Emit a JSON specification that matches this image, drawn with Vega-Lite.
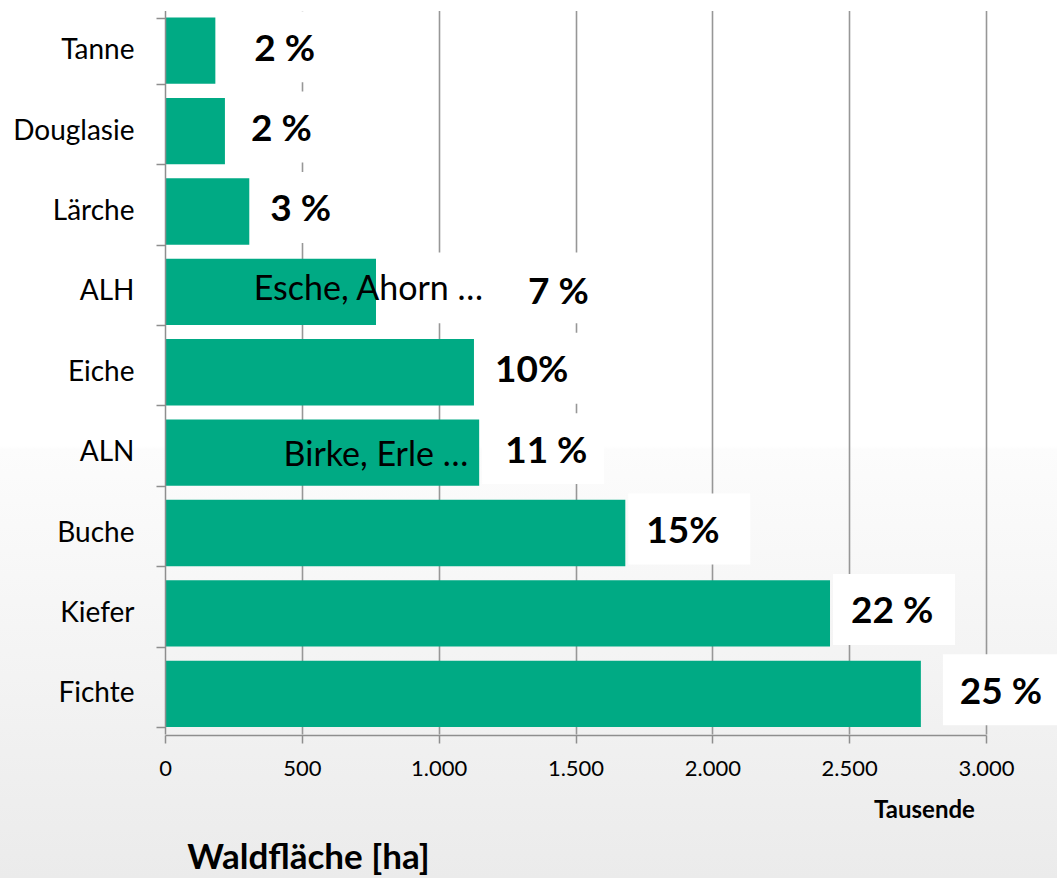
{
  "$schema": "https://vega.github.io/schema/vega-lite/v6.json",
  "width": 1057,
  "height": 878,
  "padding": 0,
  "autosize": "none",
  "background": "#ffffff",
  "config": {
    "view": {
      "stroke": null,
      "fill": {
        "gradient": "linear",
        "x1": 0, "y1": 0, "x2": 0, "y2": 1,
        "stops": [
          {"offset": 0, "color": "#ffffff"},
          {"offset": 0.508, "color": "#ffffff"},
          {"offset": 0.512, "color": "#fcfcfc"},
          {"offset": 1, "color": "#ebebeb"}
        ]
      }
    },
    "font": "Lato",
    "locale": {"number": {"decimal": ",", "thousands": ".", "grouping": [3], "currency": ["", " €"]}}
  },
  "data": {
    "values": [
      {"tree": "Tanne", "area": 184, "pct": "2 %"},
      {"tree": "Douglasie", "area": 219, "pct": "2 %"},
      {"tree": "Lärche", "area": 308, "pct": "3 %"},
      {"tree": "ALH", "area": 771, "pct": "7 %", "note": "Esche, Ahorn …"},
      {"tree": "Eiche", "area": 1129, "pct": "10%"},
      {"tree": "ALN", "area": 1148, "pct": "11 %", "note": "Birke, Erle …"},
      {"tree": "Buche", "area": 1682, "pct": "15%"},
      {"tree": "Kiefer", "area": 2430, "pct": "22 %"},
      {"tree": "Fichte", "area": 2762, "pct": "25 %"}
    ]
  },
  "encoding": {
    "y": {
      "field": "tree",
      "type": "nominal",
      "sort": ["Tanne", "Douglasie", "Lärche", "ALH", "Eiche", "ALN", "Buche", "Kiefer", "Fichte"],
      "scale": {"range": [10.5, 734], "paddingInner": 0.175, "paddingOuter": 0.0875},
      "axis": {
        "orient": "left",
        "offset": -165,
        "title": "Waldfläche [ha]",
        "titleAngle": 0,
        "titleX": 143,
        "titleY": 868,
        "titleAlign": "center",
        "titleBaseline": "alphabetic",
        "titleFont": "Lato",
        "titleFontSize": 35,
        "titleFontWeight": "bold",
        "titleColor": "#000000",
        "labelFont": "Lato",
        "labelFontSize": 28,
        "labelColor": "#000000",
        "labelPadding": 22,
        "tickBand": "extent",
        "tickSize": 9,
        "tickColor": "#8e8e8e",
        "tickWidth": 1.5,
        "domainColor": "#8e8e8e",
        "domainWidth": 1.5,
        "grid": false,
        "zindex": 1
      }
    }
  },
  "resolve": {"axis": {"x": "independent"}},
  "layer": [
    {
      "transform": [{"filter": {"field": "tree", "oneOf": ["Tanne", "Douglasie", "Lärche", "Eiche", "ALN", "Buche", "Kiefer"]}}],
      "mark": {"type": "bar", "color": "#ffffff", "xOffset": 3, "x2Offset": 125, "height": {"band": 1.07}, "yOffset": -4},
      "encoding": {
        "x": {
          "field": "area", "type": "quantitative",
          "scale": {"domain": [0, 3000], "range": [165, 986], "nice": false},
          "axis": {"orient": "top", "grid": true, "gridColor": "#979797", "gridWidth": 1.6, "labels": false, "ticks": false, "domain": false, "title": null, "values": [500, 1000, 1500, 2000, 2500, 3000]}
        },
        "x2": {"field": "area"}
      }
    },
    {
      "transform": [{"filter": {"field": "tree", "equal": "Fichte"}}],
      "mark": {"type": "bar", "color": "#ffffff", "xOffset": 22, "x2Offset": 140, "height": {"band": 1.07}, "yOffset": -4},
      "encoding": {
        "x": {"field": "area", "type": "quantitative", "scale": {"domain": [0, 3000], "range": [165, 986], "nice": false}, "axis": null},
        "x2": {"field": "area"}
      }
    },
    {
      "transform": [{"filter": {"field": "tree", "equal": "ALH"}}],
      "mark": {"type": "bar", "color": "#ffffff", "xOffset": 0, "x2Offset": 235, "height": {"band": 1.07}, "yOffset": -4},
      "encoding": {
        "x": {"field": "area", "type": "quantitative", "scale": {"domain": [0, 3000], "range": [165, 986], "nice": false}, "axis": null},
        "x2": {"field": "area"}
      }
    },
    {
      "mark": {"type": "bar", "color": "#00aa84"},
      "encoding": {
        "x": {
          "field": "area", "type": "quantitative",
          "scale": {"domain": [0, 3000], "range": [165, 986], "nice": false},
          "axis": {
            "orient": "bottom",
            "offset": -143,
            "grid": false,
            "values": [0, 500, 1000, 1500, 2000, 2500, 3000],
            "format": ",d",
            "labelFont": "Lato",
            "labelFontSize": 22,
            "labelColor": "#000000",
            "labelPadding": 15,
            "labelFlush": false,
            "labelOverlap": false,
            "tickSize": 8,
            "tickColor": "#8e8e8e",
            "tickWidth": 1.5,
            "domainColor": "#8e8e8e",
            "domainWidth": 1.5,
            "title": "Tausende",
            "titleX": 924,
            "titleY": 82,
            "titleAlign": "center",
            "titleBaseline": "alphabetic",
            "titleFont": "Lato",
            "titleFontSize": 24,
            "titleFontWeight": "bold",
            "titleColor": "#000000"
          }
        }
      }
    },
    {
      "transform": [{"filter": {"field": "tree", "oneOf": ["Lärche", "Eiche", "Buche", "Kiefer"]}}],
      "mark": {"type": "text", "align": "left", "baseline": "middle", "dx": 21, "dy": -1, "font": "Lato", "fontSize": 37, "fontWeight": "bold", "fill": "#000000"},
      "encoding": {
        "x": {"field": "area", "type": "quantitative", "axis": null},
        "text": {"field": "pct"}
      }
    },
    {
      "transform": [{"filter": {"field": "tree", "oneOf": ["Douglasie", "ALN"]}}],
      "mark": {"type": "text", "align": "left", "baseline": "middle", "dx": 26, "dy": -1, "font": "Lato", "fontSize": 37, "fontWeight": "bold", "fill": "#000000"},
      "encoding": {
        "x": {"field": "area", "type": "quantitative", "axis": null},
        "text": {"field": "pct"}
      }
    },
    {
      "transform": [{"filter": {"field": "tree", "oneOf": ["Tanne", "Fichte"]}}],
      "mark": {"type": "text", "align": "left", "baseline": "middle", "dx": 39, "dy": -1, "font": "Lato", "fontSize": 37, "fontWeight": "bold", "fill": "#000000"},
      "encoding": {
        "x": {"field": "area", "type": "quantitative", "axis": null},
        "text": {"field": "pct"}
      }
    },
    {
      "transform": [{"filter": {"field": "tree", "equal": "ALH"}}],
      "mark": {"type": "text", "align": "left", "baseline": "middle", "dx": 152, "dy": 1, "font": "Lato", "fontSize": 37, "fontWeight": "bold", "fill": "#000000"},
      "encoding": {
        "x": {"field": "area", "type": "quantitative", "axis": null},
        "text": {"field": "pct"}
      }
    },
    {
      "transform": [{"filter": {"field": "tree", "equal": "ALH"}}],
      "mark": {"type": "text", "align": "right", "baseline": "middle", "dx": 107, "dy": -2, "font": "Lato", "fontSize": 34, "fill": "#000000"},
      "encoding": {
        "x": {"field": "area", "type": "quantitative", "axis": null},
        "text": {"field": "note"}
      }
    },
    {
      "transform": [{"filter": {"field": "tree", "equal": "ALN"}}],
      "mark": {"type": "text", "align": "right", "baseline": "middle", "dx": -11, "dy": 3, "font": "Lato", "fontSize": 34, "fill": "#000000"},
      "encoding": {
        "x": {"field": "area", "type": "quantitative", "axis": null},
        "text": {"field": "note"}
      }
    }
  ]
}
